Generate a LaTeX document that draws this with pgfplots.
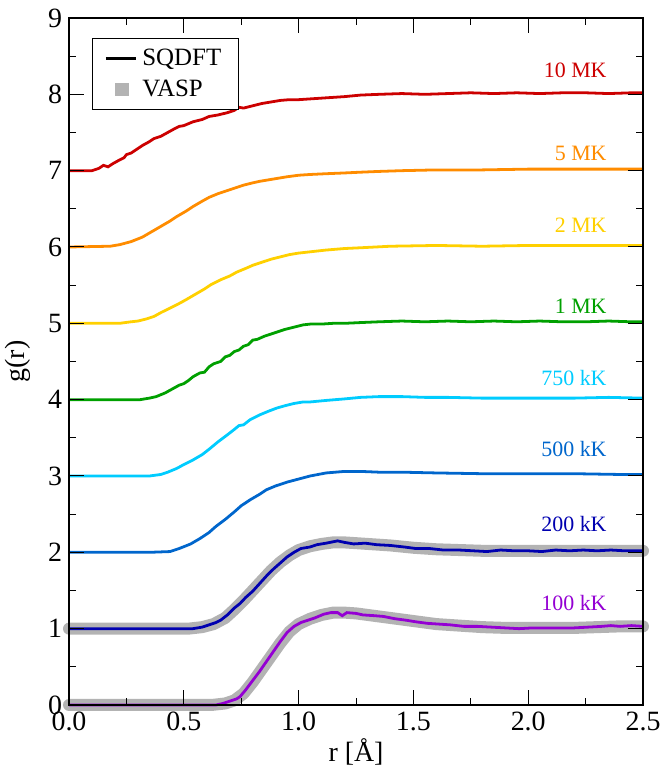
\documentclass[border=0pt]{standalone}
\usepackage{fontspec}
\setmainfont{Liberation Serif}
\newfontfamily\tfont{Liberation Serif}
\usepackage{pgfplots}
\pgfplotsset{compat=1.18}

\definecolor{c10MK}{HTML}{CC0000}
\definecolor{c5MK}{HTML}{FF8C00}
\definecolor{c2MK}{HTML}{FFD000}
\definecolor{c1MK}{HTML}{00A000}
\definecolor{c750}{HTML}{00CCFF}
\definecolor{c500}{HTML}{0066CC}
\definecolor{c200}{HTML}{0000B0}
\definecolor{c100}{HTML}{9400D3}
\definecolor{vaspgray}{HTML}{B3B3B3}

\begin{document}
\begin{tikzpicture}
\begin{axis}[
    scale only axis,
    width=287bp, height=343.5bp,
    xmin=0, xmax=2.5,
    ymin=0, ymax=9,
    xtick={0,0.5,1,1.5,2,2.5},
    xticklabels={0.0,0.5,1.0,1.5,2.0,2.5},
    ytick={0,1,2,3,4,5,6,7,8,9},
    yticklabels={0,1,2,3,4,5,6,7,8,9},
    minor x tick num=1,
    minor y tick num=1,
    major tick length=7.5bp,
    minor tick length=3.5bp,
    tick style={black, line width=0.5pt},
    axis line style={line width=0.8pt},
    axis on top,
    clip=false,
    tick label style={font=\tfont\fontsize{14}{16}\selectfont},
    xlabel={r [Å]},
    ylabel={g(r)},
    every axis x label/.style={at={(axis description cs:0.5,0)}, yshift=-23.5bp, anchor=center,
        font=\tfont\fontsize{14}{16}\selectfont},
    every axis y label/.style={at={(axis description cs:0,0.5)}, xshift=-25.5bp, rotate=90, anchor=center,
        font=\tfont\fontsize{14}{16}\selectfont},
    legend style={at={(0.04,0.971)}, anchor=north west, draw=black, line width=0.6pt,
        fill=white, font=\tfont\fontsize{12.5}{14}\selectfont, inner xsep=6bp, inner ysep=2.5bp,
        row sep=1bp, nodes={inner sep=2.5bp}},
    legend cell align=left,
]

% legend
\addlegendimage{legend image code/.code={\draw[black, line width=1.4pt] (0bp,0bp) -- (15bp,0bp);}}
\addlegendentry{SQDFT}
\addlegendimage{legend image code/.code={\fill[vaspgray] (5bp,-3bp) rectangle (11bp,3bp);}}
\addlegendentry{VASP}

% VASP reference (gray band)
\addplot[forget plot, vaspgray, line width=6bp, line cap=round, line join=round] coordinates {
(0,0) (0.62,0) (0.68,0.02) (0.72,0.06) (0.76,0.15) (0.80,0.30) (0.84,0.47) (0.88,0.64)
(0.92,0.81) (0.96,0.96) (1.00,1.06) (1.05,1.13) (1.10,1.18) (1.15,1.21) (1.20,1.21)
(1.25,1.20) (1.30,1.18) (1.40,1.14) (1.50,1.10) (1.60,1.06) (1.70,1.04) (1.80,1.02)
(1.90,1.01) (2.00,1.01) (2.10,1.01) (2.20,1.01) (2.30,1.02) (2.40,1.03) (2.50,1.03)
};
\addplot[forget plot, vaspgray, line width=6bp, line cap=round, line join=round] coordinates {
(0,1) (0.52,1.00) (0.58,1.02) (0.63,1.06) (0.68,1.14) (0.72,1.25) (0.76,1.37) (0.80,1.50)
(0.84,1.63) (0.88,1.76) (0.92,1.87) (0.96,1.96) (1.00,2.03) (1.05,2.08) (1.10,2.11)
(1.15,2.13) (1.20,2.13) (1.30,2.11) (1.40,2.09) (1.50,2.06) (1.60,2.04) (1.70,2.03)
(1.80,2.02) (1.90,2.02) (2.00,2.02) (2.10,2.02) (2.20,2.02) (2.30,2.02) (2.40,2.02) (2.50,2.02)
};

% SQDFT
\addplot[forget plot, c100, line width=1.4pt] coordinates {
(0,0) (0.60,0) (0.64,0.00) (0.67,0.02) (0.70,0.05) (0.73,0.08) (0.745,0.11) (0.77,0.20)
(0.80,0.32) (0.83,0.44) (0.86,0.57) (0.89,0.70) (0.92,0.83) (0.95,0.95) (0.98,1.03)
(1.01,1.08) (1.04,1.11) (1.07,1.14) (1.11,1.19) (1.14,1.21) (1.17,1.21) (1.19,1.17)
(1.21,1.21) (1.25,1.20) (1.28,1.18) (1.33,1.17) (1.37,1.16) (1.42,1.13) (1.47,1.11)
(1.51,1.09) (1.56,1.07) (1.61,1.06) (1.66,1.05) (1.72,1.03) (1.78,1.03) (1.84,1.02)
(1.90,1.01) (1.96,1.00) (2.02,1.01) (2.08,1.01) (2.14,1.01) (2.20,1.01) (2.26,1.02)
(2.32,1.03) (2.36,1.04) (2.40,1.03) (2.45,1.04) (2.50,1.03)
};
\addplot[forget plot, c200, line width=1.4pt] coordinates {
(0,1.00) (0.45,1.00) (0.54,1.00) (0.58,1.02) (0.61,1.05) (0.64,1.08) (0.66,1.11) (0.69,1.18)
(0.72,1.27) (0.745,1.33) (0.77,1.41) (0.80,1.49) (0.83,1.59) (0.86,1.69) (0.89,1.78)
(0.92,1.86) (0.95,1.94) (0.98,2.00) (1.01,2.05) (1.05,2.07) (1.08,2.10) (1.12,2.12)
(1.17,2.15) (1.20,2.13) (1.24,2.11) (1.29,2.12) (1.34,2.10) (1.40,2.09) (1.46,2.07)
(1.51,2.05) (1.57,2.05) (1.63,2.03) (1.70,2.03) (1.76,2.02) (1.82,2.01) (1.88,2.03)
(1.94,2.02) (2.00,2.02) (2.06,2.01) (2.12,2.03) (2.18,2.02) (2.24,2.03) (2.30,2.02)
(2.36,2.03) (2.42,2.02) (2.50,2.02)
};
\addplot[forget plot, c500, line width=1.4pt] coordinates {
(0,2.00) (0.35,2.00) (0.44,2.01) (0.48,2.05) (0.53,2.11) (0.57,2.18) (0.61,2.26) (0.64,2.34)
(0.68,2.43) (0.72,2.53) (0.75,2.61) (0.79,2.69) (0.83,2.76) (0.86,2.82) (0.90,2.87)
(0.95,2.92) (1.00,2.96) (1.05,3.00) (1.12,3.04) (1.20,3.06) (1.27,3.06) (1.35,3.05)
(1.45,3.05) (1.60,3.04) (1.80,3.03) (2.00,3.03) (2.20,3.03) (2.40,3.02) (2.50,3.02)
};
\addplot[forget plot, c750, line width=1.4pt] coordinates {
(0,3.00) (0.35,3.00) (0.40,3.02) (0.43,3.05) (0.47,3.10) (0.50,3.15) (0.54,3.21) (0.58,3.28)
(0.61,3.35) (0.65,3.45) (0.69,3.54) (0.72,3.61) (0.74,3.66) (0.76,3.67) (0.79,3.74) (0.83,3.80)
(0.87,3.85) (0.905,3.89) (0.94,3.92) (0.98,3.95) (1.02,3.97) (1.05,3.97) (1.12,3.99)
(1.20,4.01) (1.27,4.03) (1.35,4.04) (1.45,4.04) (1.55,4.03) (1.65,4.03) (1.80,4.02)
(2.00,4.02) (2.20,4.02) (2.35,4.03) (2.50,4.02)
};
\addplot[forget plot, c1MK, line width=1.4pt] coordinates {
(0,4.00) (0.31,4.00) (0.35,4.02) (0.38,4.04) (0.42,4.09) (0.45,4.14) (0.48,4.19) (0.50,4.21)
(0.52,4.25) (0.54,4.30) (0.57,4.35) (0.59,4.36) (0.61,4.43) (0.63,4.47) (0.66,4.50)
(0.68,4.56) (0.70,4.58) (0.72,4.63) (0.74,4.65) (0.76,4.70) (0.78,4.72) (0.80,4.78)
(0.82,4.79) (0.85,4.83) (0.88,4.86) (0.91,4.89) (0.94,4.92)
(0.98,4.95) (1.02,4.98) (1.05,4.99) (1.10,4.99) (1.15,5.00) (1.20,5.00) (1.27,5.01)
(1.35,5.02) (1.45,5.03) (1.55,5.02) (1.65,5.03) (1.75,5.02) (1.85,5.03) (1.95,5.02)
(2.05,5.03) (2.15,5.02) (2.25,5.02) (2.35,5.03) (2.45,5.02) (2.50,5.02)
};
\addplot[forget plot, c2MK, line width=1.4pt] coordinates {
(0,5.00) (0.22,5.00) (0.27,5.02) (0.30,5.03) (0.34,5.06) (0.37,5.09) (0.40,5.14) (0.44,5.20)
(0.48,5.26) (0.51,5.31) (0.55,5.38) (0.59,5.45) (0.62,5.51) (0.66,5.57) (0.70,5.62)
(0.73,5.67) (0.77,5.72) (0.80,5.76) (0.84,5.80) (0.88,5.84) (0.92,5.87) (0.96,5.90)
(1.00,5.92) (1.06,5.94) (1.12,5.96) (1.20,5.98) (1.27,5.99) (1.40,6.01) (1.60,6.02)
(1.80,6.01) (2.00,6.02) (2.20,6.02) (2.40,6.02) (2.50,6.02)
};
\addplot[forget plot, c5MK, line width=1.4pt] coordinates {
(0,6.00) (0.18,6.01) (0.22,6.03) (0.27,6.07) (0.32,6.13) (0.36,6.20) (0.40,6.27) (0.44,6.34)
(0.47,6.40) (0.51,6.47) (0.54,6.53) (0.58,6.60) (0.61,6.65) (0.65,6.70) (0.69,6.74)
(0.73,6.78) (0.76,6.81) (0.80,6.84) (0.83,6.86) (0.87,6.88) (0.91,6.90) (0.95,6.92)
(1.00,6.94) (1.05,6.95) (1.12,6.96) (1.20,6.97) (1.27,6.98) (1.35,6.99) (1.45,7.00)
(1.60,7.01) (1.80,7.01) (2.00,7.02) (2.20,7.02) (2.40,7.02) (2.50,7.02)
};
\addplot[forget plot, c10MK, line width=1.4pt] coordinates {
(0,7.00) (0.10,7.00) (0.13,7.03) (0.15,7.07) (0.17,7.05) (0.19,7.09) (0.22,7.14) (0.24,7.17)
(0.25,7.21) (0.27,7.23) (0.30,7.29) (0.32,7.33) (0.35,7.38) (0.37,7.42) (0.40,7.45)
(0.43,7.50) (0.46,7.55) (0.48,7.58) (0.50,7.59) (0.54,7.64) (0.58,7.67) (0.61,7.71)
(0.65,7.73) (0.69,7.76) (0.72,7.79) (0.74,7.83) (0.76,7.82) (0.80,7.85) (0.84,7.88) (0.88,7.90)
(0.92,7.92) (0.96,7.93) (1.00,7.93) (1.05,7.94) (1.10,7.95) (1.15,7.96) (1.20,7.97)
(1.27,7.99) (1.35,8.00) (1.45,8.01) (1.55,8.00) (1.65,8.01) (1.75,8.02) (1.85,8.01)
(1.95,8.02) (2.05,8.01) (2.15,8.02) (2.25,8.02) (2.35,8.01) (2.45,8.02) (2.50,8.02)
};

% temperature labels
\begin{scope}[every node/.style={anchor=east, font=\tfont\fontsize{11}{13}\selectfont, inner sep=0pt}]
\node[text=c10MK] at (axis cs:2.343,8.32) {10 MK};
\node[text=c5MK]  at (axis cs:2.343,7.22) {5 MK};
\node[text=c2MK]  at (axis cs:2.343,6.29) {2 MK};
\node[text=c1MK]  at (axis cs:2.343,5.23) {1 MK};
\node[text=c750]  at (axis cs:2.343,4.29) {750 kK};
\node[text=c500]  at (axis cs:2.343,3.36) {500 kK};
\node[text=c200]  at (axis cs:2.343,2.37) {200 kK};
\node[text=c100]  at (axis cs:2.343,1.34) {100 kK};
\end{scope}
\end{axis}
\pgfresetboundingbox
\path[use as bounding box] ([shift={(-34.5bp,-33.5bp)}]current axis.south west)
    rectangle ([shift={(8.5bp,9bp)}]current axis.north east);
\end{tikzpicture}
\end{document}
